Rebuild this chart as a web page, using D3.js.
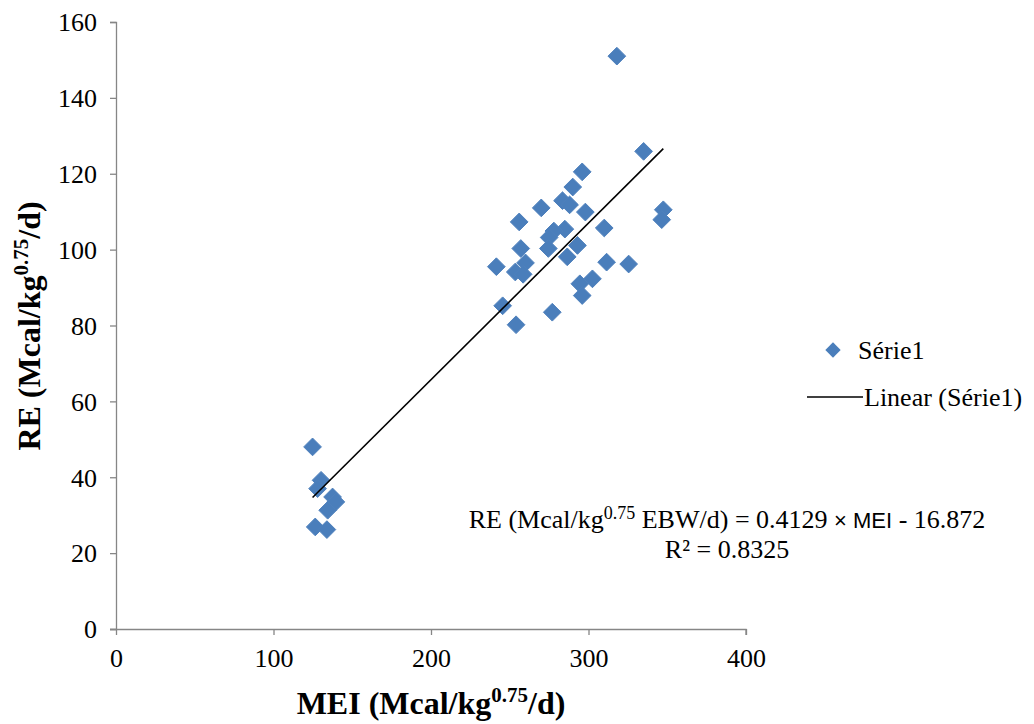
<!DOCTYPE html>
<html>
<head>
<meta charset="utf-8">
<script src="https://cdnjs.cloudflare.com/ajax/libs/d3/7.8.5/d3.min.js"></script>
<style>
  body { margin: 0; background: #fff; }
  svg text { font-family: "Liberation Serif", "Times New Roman", Times, "DejaVu Serif", serif; }
</style>
</head>
<body>
<svg id="mysvg" width="1034" height="724"></svg>
<script>
// MEI values (x) and RE values (y)
var mei = [318, 335, 296, 290, 283.5, 288, 270, 298, 347.5, 346.5, 256, 310, 285, 278,
           275, 257, 293, 274.5, 286.5, 260, 311.5, 325.5, 241.5, 253.5, 258.5, 302.5, 294.5, 296,
           245.5, 277, 254, 124.8, 130.2, 128, 137.5, 139.6, 134.4, 126.5, 133.9];
var re  = [151, 125.9, 120.5, 116.5, 112.9, 111.8, 111, 109.9, 110.5, 107.9, 107.3, 105.7, 105.4, 104.9,
           103.2, 100.3, 101.1, 100.3, 98.1, 96.5, 96.7, 96.2, 95.5, 94.1, 93.5, 92.3, 91, 87.9,
           85.2, 83.5, 80.2, 48, 39.2, 37, 34.8, 33.5, 31.3, 26.9, 26.2];

var xTicks = [0, 100, 200, 300, 400];
var yTicks = [0, 20, 40, 60, 80, 100, 120, 140, 160];

// trendline from the chart's own label
var slope = 0.4129;
var intercept = -16.872;
var r2Text = "R² = 0.8325";

var svg = d3.select("#mysvg");

var x = d3.scaleLinear().domain([0, 400]).range([116, 746]);
var y = d3.scaleLinear().domain([0, 160]).range([629, 22]);

var axisColor = "#868686";
var tickFont = 26;

// y axis
var yAxis = svg.append("g")
		.attr("transform", "translate(" + x(0) + ",0)")
		.call(d3.axisLeft(y).tickValues(yTicks).tickSize(6).tickPadding(13));
yAxis.selectAll("path, line").attr("stroke", axisColor).attr("stroke-width", 1.3);
yAxis.selectAll("text").attr("font-size", tickFont).attr("fill", "#000").attr("dy", "0.34em");

// x axis
var xAxis = svg.append("g")
		.attr("transform", "translate(0," + y(0) + ")")
		.call(d3.axisBottom(x).tickValues(xTicks).tickSize(6).tickPadding(14));
xAxis.selectAll("path, line").attr("stroke", axisColor).attr("stroke-width", 1.3);
xAxis.select(".domain").attr("d", "M" + (x(0) - 6) + ",0.5H" + x(400) + "V6");
xAxis.selectAll("text").attr("font-size", tickFont).attr("fill", "#000");

// points
var diamond = d3.symbol().type(d3.symbolDiamond2).size(200);
svg.append("g").selectAll("path")
		.data(mei.map(function (d, i) { return [d, re[i]]; }))
		.enter().append("path")
		.attr("d", diamond)
		.attr("transform", function (d) { return "translate(" + x(d[0]) + "," + y(d[1]) + ")"; })
		.attr("fill", "#4A7EBB")
		.attr("stroke", "#4F81BD")
		.attr("stroke-width", 1);

// trend line
var xMin = d3.min(mei), xMax = d3.max(mei);
svg.append("line")
		.attr("x1", x(xMin)).attr("y1", y(slope * xMin + intercept))
		.attr("x2", x(xMax)).attr("y2", y(slope * xMax + intercept))
		.attr("stroke", "#000")
		.attr("stroke-width", 1.6);

// axis titles
var xt = svg.append("text")
		.attr("x", 431).attr("y", 714)
		.attr("text-anchor", "middle")
		.attr("font-size", 32).attr("font-weight", "bold");
xt.append("tspan").text("MEI (Mcal/kg");
xt.append("tspan").attr("dy", -12).attr("font-size", 21).text("0.75");
xt.append("tspan").attr("dy", 12).text("/d)");

var yt = svg.append("text")
		.attr("transform", "translate(40,326) rotate(-90)")
		.attr("text-anchor", "middle")
		.attr("font-size", 32).attr("font-weight", "bold");
yt.append("tspan").text("RE (Mcal/kg");
yt.append("tspan").attr("dy", -12).attr("font-size", 21).text("0.75");
yt.append("tspan").attr("dy", 12).text("/d)");

// legend
svg.append("path")
		.attr("d", d3.symbol().type(d3.symbolDiamond2).size(150))
		.attr("transform", "translate(833,350)")
		.attr("fill", "#4A7EBB");
svg.append("text").attr("x", 858).attr("y", 359).attr("font-size", 26).text("Série1");

svg.append("line")
		.attr("x1", 807).attr("x2", 863).attr("y1", 397).attr("y2", 397)
		.attr("stroke", "#000").attr("stroke-width", 1.6);
svg.append("text").attr("x", 864).attr("y", 406).attr("font-size", 26).text("Linear (Série1)");

// equation
var eq = svg.append("text")
		.attr("x", 727).attr("y", 528)
		.attr("text-anchor", "middle")
		.attr("font-size", 26);
eq.append("tspan").text("RE (Mcal/kg");
eq.append("tspan").attr("dy", -9).attr("font-size", 18).text("0.75");
eq.append("tspan").attr("dy", 9).text(" EBW/d) = " + slope + " ");
eq.append("tspan").style("font-family", "'Liberation Sans', Arial, sans-serif").attr("font-size", 22).text("× MEI");
eq.append("tspan").text(" - " + (-intercept));

svg.append("text")
		.attr("x", 727).attr("y", 558)
		.attr("text-anchor", "middle")
		.attr("font-size", 26)
		.text(r2Text);
</script>
</body>
</html>
